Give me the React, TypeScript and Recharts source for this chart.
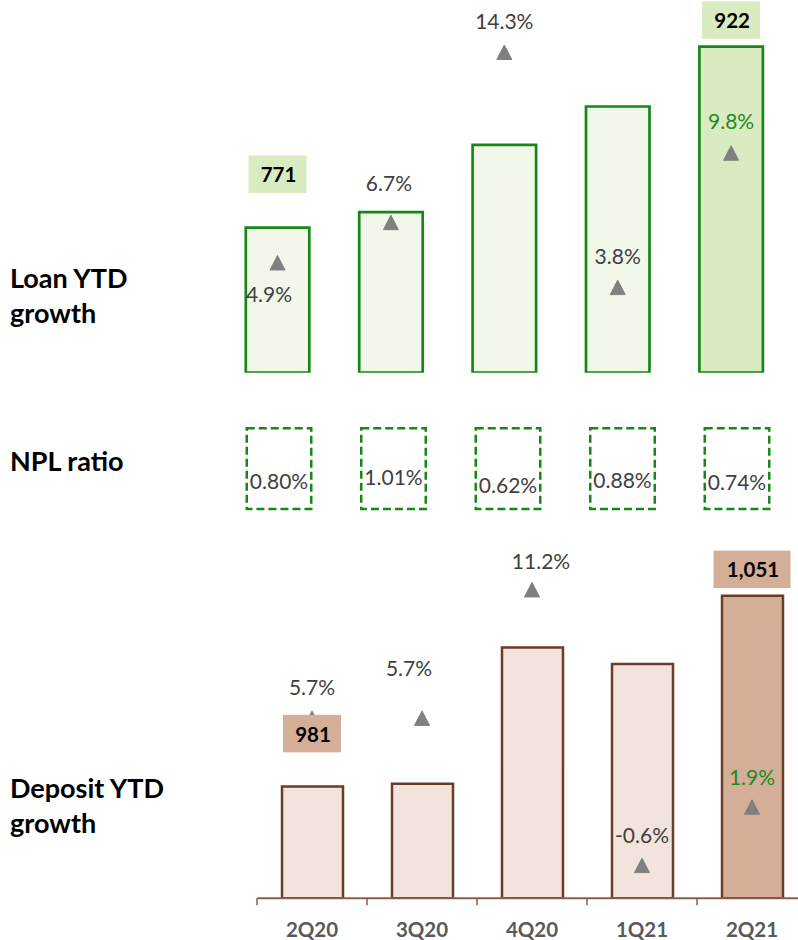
import React from "react";
import { ComposedChart, Bar, Line, XAxis, YAxis, Cell, LabelList } from "recharts";

const quarters = ["2Q20", "3Q20", "4Q20", "1Q21", "2Q21"];
const loanBalance = [771, 784, 840, 872, 922];
const loanGrowth = [4.9, 6.7, 14.3, 3.8, 9.8];
const nplRatio = [0.8, 1.01, 0.62, 0.88, 0.74];
const depositBalance = [981, 982, 1032, 1026, 1051];
const depositGrowth = [5.7, 5.7, 11.2, -0.6, 1.9];

const FONT = "Lato, 'Open Sans', sans-serif";
const GREEN = "#178717";
const GREEN_TEXT = "#1e8b1e";
const LOAN_FILL = "#f1f7e9";
const LOAN_HI = "#d8ebc1";
const BROWN = "#6b3d26";
const DEP_FILL = "#f2e4dc";
const DEP_HI = "#d4ae96";
const GREY_TEXT = "#404040";
const MARKER = "#808080";

// hand nudges for the growth labels, [dx, dy] from the triangle
const loanNudge = [[-8.5, 31], [-2, -40], [0, -32], [0, -32], [0, -33]];
const depositNudge = [[0, -32], [-13, -51], [9, -29], [0, -31], [0, -31]];
// how far the value box sits above the bar top (only first/last shown)
const loanBoxLift = [53.5, 0, 0, 0, 26.5];
const depositBoxLift = [53, 0, 0, 0, 26.5];

const loanData = quarters.map((q, i) => ({ quarter: q, balance: loanBalance[i], growth: loanGrowth[i] }));
const nplData = quarters.map((q, i) => ({ quarter: q, npl: nplRatio[i] }));
const depositData = quarters.map((q, i) => ({ quarter: q, balance: depositBalance[i], growth: depositGrowth[i] }));

const pos = (props: any) => {
  const vb = props.viewBox || {};
  return {
    x: (vb.x ?? props.x) + (vb.width ?? 0) / 2,
    y: vb.y ?? props.y,
  };
};

const triangleDot = (props: any) => {
  const { cx, cy, index } = props;
  if (cx == null || cy == null) return <g key={`tri-${index}`} />;
  return (
    <polygon
      key={`tri-${index}`}
      points={`${cx - 7.5},${cy + 7} ${cx + 7.5},${cy + 7} ${cx},${cy - 7.5}`}
      fill={MARKER}
      stroke={MARKER}
      strokeWidth={1}
      strokeLinejoin="round"
    />
  );
};

const growthLabel = (nudge: number[][], highlight: number) => (props: any) => {
  const { value, index } = props;
  const { x, y } = pos(props);
  const [dx, dy] = nudge[index] || [0, -32];
  return (
    <text
      x={x + dx}
      y={y + dy}
      textAnchor="middle"
      dominantBaseline="central"
      fontFamily={FONT}
      fontSize={21}
      fill={index === highlight ? GREEN_TEXT : GREY_TEXT}
    >
      {`${Number(value).toFixed(1)}%`}
    </text>
  );
};

const valueBox = (lift: number[], fill: string) => (props: any) => {
  const { value, index } = props;
  if (!lift[index]) return null;
  const { x, y } = pos(props);
  const text = Number(value).toLocaleString("en-US");
  const w = 29.5 + 9.5 * text.length;
  const cy = y - lift[index];
  return (
    <g>
      <rect x={x - w / 2} y={cy - 18.7} width={w} height={37.5} fill={fill} />
      <text
        x={x + 1}
        y={cy}
        textAnchor="middle"
        dominantBaseline="central"
        fontFamily={FONT}
        fontWeight={700}
        fontSize={20.5}
        fill="#000"
      >
        {text}
      </text>
    </g>
  );
};

const nplLabel = (props: any) => {
  const { value } = props;
  const { x, y } = pos(props);
  return (
    <text x={x} y={y} textAnchor="middle" dominantBaseline="central" fontFamily={FONT} fontSize={21} fill={GREY_TEXT}>
      {`${Number(value).toFixed(2)}%`}
    </text>
  );
};

const QuarterTick = (props: any) => {
  const { x, y, payload } = props;
  const half = 55;
  return (
    <g>
      <line x1={x - half} y1={y} x2={x - half} y2={y + 7} stroke="#8b5e45" strokeWidth={1.5} />
      <text x={x} y={y + 38.5} textAnchor="middle" fontFamily={FONT} fontWeight={700} fontSize={20.5} fill="#595959">
        {payload.value}
      </text>
    </g>
  );
};

export default function App() {
  return (
    <div
      style={{
        position: "absolute",
        left: 0,
        top: 0,
        width: 798,
        height: 940,
        overflow: "hidden",
        background: "#fff",
        fontFamily: FONT,
      }}
    >
      <svg width={230} height={940} style={{ position: "absolute", left: 0, top: 0 }}>
        <g fontFamily={FONT} fontWeight={700} fontSize={27} fill="#000">
          <text x={10} y={288.3}>Loan YTD</text>
          <text x={10} y={323.3}>growth</text>
          <text x={10} y={471}>NPL ratio</text>
          <text x={10} y={798.3}>Deposit YTD</text>
          <text x={10} y={833.3}>growth</text>
        </g>
      </svg>

      {/* loans */}
      <div style={{ position: "absolute", left: 0, top: 0 }}>
        <ComposedChart width={798} height={380} data={loanData} margin={{ top: 1, right: 10.2, bottom: 7.3, left: 220.8 }}>
          <XAxis dataKey="quarter" hide />
          <YAxis yAxisId="bal" domain={[650, 960]} hide allowDataOverflow />
          <YAxis yAxisId="gr" domain={[0, 16.6]} hide allowDataOverflow />
          <Bar yAxisId="bal" dataKey="balance" barSize={63.5} stroke={GREEN} strokeWidth={2.7} isAnimationActive={false}>
            {loanData.map((_, i) => (
              <Cell key={i} fill={i === loanData.length - 1 ? LOAN_HI : LOAN_FILL} />
            ))}
          </Bar>
          <Line yAxisId="gr" dataKey="growth" stroke="none" dot={triangleDot} activeDot={false} isAnimationActive={false}>
            <LabelList dataKey="growth" content={growthLabel(loanNudge, 4)} />
          </Line>
          <Line yAxisId="bal" dataKey="balance" stroke="none" dot={false} activeDot={false} isAnimationActive={false}>
            <LabelList dataKey="balance" content={valueBox(loanBoxLift, LOAN_HI)} />
          </Line>
        </ComposedChart>
      </div>

      {/* NPL ratio */}
      <div style={{ position: "absolute", left: 0, top: 420 }}>
        <ComposedChart width={798} height={100} data={nplData} margin={{ top: 8.3, right: 3.75, bottom: 11, left: 221.75 }}>
          <XAxis dataKey="quarter" hide />
          <YAxis domain={[-0.65, 3.5]} hide allowDataOverflow />
          <Bar
            dataKey="npl"
            barSize={64.5}
            fill="none"
            background={{ fill: "none", stroke: GREEN, strokeWidth: 2.5, strokeDasharray: "8 4" }}
            isAnimationActive={false}
          >
            <LabelList dataKey="npl" content={nplLabel} />
          </Bar>
        </ComposedChart>
      </div>

      {/* deposits */}
      <div style={{ position: "absolute", left: 0, top: 480 }}>
        <ComposedChart width={820} height={460} data={depositData} margin={{ top: 9.5, right: 13, bottom: 0, left: 257 }}>
          <XAxis
            dataKey="quarter"
            height={41.7}
            axisLine={{ stroke: "#8b5e45", strokeWidth: 2 }}
            tickLine={false}
            tickSize={0}
            tickMargin={0}
            tick={<QuarterTick />}
            interval={0}
          />
          <YAxis yAxisId="bal" domain={[940, 1090]} hide allowDataOverflow />
          <YAxis yAxisId="gr" domain={[-2, 15.5]} hide allowDataOverflow />
          <Bar yAxisId="bal" dataKey="balance" barSize={61} stroke={BROWN} strokeWidth={2.5} isAnimationActive={false}>
            {depositData.map((_, i) => (
              <Cell key={i} fill={i === depositData.length - 1 ? DEP_HI : DEP_FILL} />
            ))}
          </Bar>
          <Line yAxisId="gr" dataKey="growth" stroke="none" dot={triangleDot} activeDot={false} isAnimationActive={false}>
            <LabelList dataKey="growth" content={growthLabel(depositNudge, 4)} />
          </Line>
          <Line yAxisId="bal" dataKey="balance" stroke="none" dot={false} activeDot={false} isAnimationActive={false}>
            <LabelList dataKey="balance" content={valueBox(depositBoxLift, DEP_HI)} />
          </Line>
        </ComposedChart>
      </div>
    </div>
  );
}
